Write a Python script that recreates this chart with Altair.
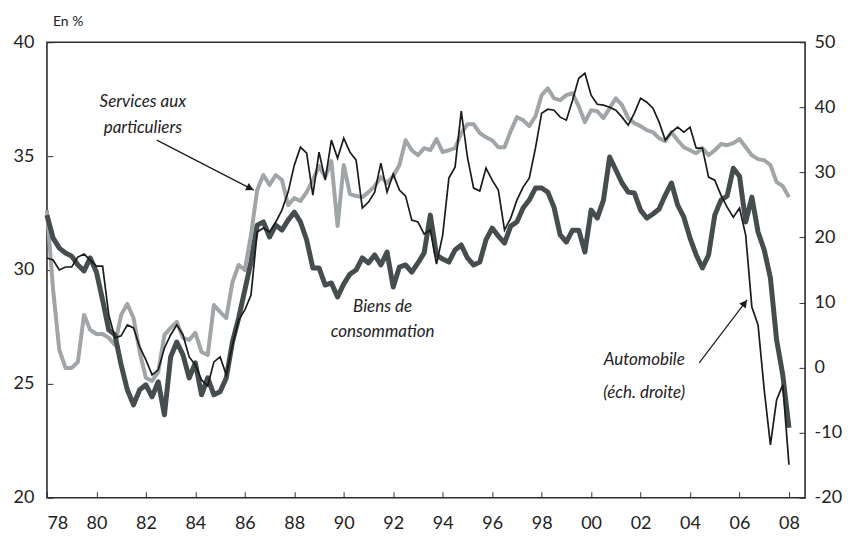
import altair as alt
import pandas as pd
import math

# Quarterly series, 1978Q1 .. 2008Q1
services = [32.63, 29.12, 26.49, 25.70, 25.70, 25.96, 28.03, 27.37, 27.19, 27.19,
            27.02, 26.71, 28.03, 28.51, 27.89, 26.40, 25.26, 25.13, 25.53, 27.15,
            27.46, 27.72, 27.02, 26.93, 27.24, 26.40, 26.27, 28.46, 28.16, 27.89,
            29.47, 30.22, 30.00, 31.54, 33.51, 34.17, 33.73, 34.17, 33.95, 32.85,
            33.16, 33.03, 33.42, 33.95, 34.56, 34.08, 34.78, 31.93, 34.61, 33.33,
            33.25, 33.20, 33.42, 33.68, 34.08, 33.82, 34.12, 34.61, 35.70, 35.26,
            35.04, 35.35, 35.26, 35.75, 35.18, 35.26, 35.35, 36.01, 36.40, 36.40,
            36.01, 35.83, 35.70, 35.39, 35.39, 36.10, 36.71, 36.58, 36.32, 36.75,
            37.68, 37.98, 37.54, 37.46, 37.68, 37.76, 37.19, 36.49, 37.02, 36.97,
            36.67, 37.11, 37.54, 37.24, 36.67, 36.45, 36.32, 36.14, 36.05, 35.79,
            35.66, 36.05, 35.70, 35.39, 35.26, 35.13, 35.35, 35.04, 35.26, 35.53,
            35.48, 35.57, 35.75, 35.39, 35.04, 34.87, 34.82, 34.61, 33.86, 33.68,
            33.20]

biens = [32.41, 31.40, 30.96, 30.75, 30.61, 30.22, 29.96, 30.53, 29.91, 28.68,
         27.37, 27.15, 25.83, 24.74, 24.08, 24.74, 24.96, 24.43, 25.09, 23.64,
         26.18, 26.84, 26.27, 25.26, 25.92, 24.52, 25.26, 24.52, 24.65, 25.26,
         26.84, 27.89, 29.12, 30.35, 31.97, 32.11, 31.45, 31.97, 31.75, 32.19,
         32.54, 32.11, 31.32, 30.09, 30.09, 29.34, 29.43, 28.82, 29.39, 29.82,
         30.00, 30.53, 30.31, 30.66, 30.22, 30.79, 29.25, 30.13, 30.22, 29.91,
         30.31, 30.75, 32.41, 30.66, 30.48, 30.35, 30.88, 31.10, 30.53, 30.22,
         30.35, 31.32, 31.84, 31.49, 31.18, 31.93, 32.11, 32.72, 33.07, 33.60,
         33.60, 33.42, 32.76, 31.54, 31.23, 31.75, 31.75, 30.79, 32.63, 32.28,
         33.07, 34.96, 34.39, 33.82, 33.42, 33.38, 32.63, 32.28, 32.46, 32.68,
         33.29, 33.82, 32.85, 32.32, 31.40, 30.66, 30.09, 30.66, 32.41, 33.07,
         33.25, 34.47, 34.12, 32.11, 33.20, 31.67, 30.88, 29.65, 26.93, 25.39,
         23.07]

auto = [16.84, 16.53, 15.00, 15.46, 15.46, 16.99, 17.45, 16.53, 15.61, 15.61,
        8.09, 4.56, 4.87, 6.56, 6.10, 3.18, 1.18, -1.12, -0.35, 3.02,
        5.02, 6.56, 5.02, 1.64, 0.41, -1.89, -2.81, 0.88, 1.64, -1.12,
        3.49, 7.32, 8.86, 11.16, 20.83, 21.45, 20.83, 22.37, 24.21, 26.97,
        31.12, 33.88, 32.96, 26.51, 33.11, 28.81, 34.96, 32.19, 35.26, 33.11,
        31.89, 24.52, 25.44, 26.97, 31.42, 26.97, 29.74, 27.28, 26.36, 22.67,
        22.37, 20.53, 21.14, 15.92, 20.37, 29.12, 30.81, 39.41, 32.35, 27.59,
        27.13, 30.66, 28.81, 27.28, 21.14, 22.98, 25.74, 27.74, 29.12, 33.73,
        39.10, 39.71, 39.56, 38.49, 38.03, 41.10, 44.47, 45.24, 41.86, 40.48,
        40.33, 40.02, 39.56, 38.49, 37.26, 39.10, 41.40, 40.79, 39.87, 37.72,
        34.96, 36.18, 36.95, 36.18, 36.95, 33.73, 33.73, 29.28, 28.81, 26.51,
        24.67, 23.13, 24.52, 20.37, 9.32, 6.56, -3.42, -11.87, -4.96, -2.66,
        -14.94]

years = [1978 + 0.25 * i for i in range(len(services))]
x_ticks = list(range(1978, 2009, 2))
left_ticks = [20, 25, 30, 35, 40]
right_ticks = [-20, -10, 0, 10, 20, 30, 40, 50]

df = pd.DataFrame({"year": years, "services": services, "biens": biens, "auto": auto})

W, H = 759, 456
FONT = "Lato"

x_enc = alt.X("year:Q",
              scale=alt.Scale(domain=[1978, 2008.65], nice=False, zero=False),
              axis=alt.Axis(values=x_ticks, labelExpr="substring(toString(datum.value), 2, 4)",
                            title=None, offset=-6, tickSize=6, labelPadding=17,
                            domain=False, grid=False))

left_axis = alt.Axis(values=left_ticks, title=None, orient="left", offset=-6, tickSize=6,
                     labelPadding=13, domain=False, grid=False)
left_scale = alt.Scale(domain=[20, 40], nice=False, zero=False)

base = alt.Chart(df)

services_line = base.mark_line(color="#A0A5A8", strokeWidth=4, strokeJoin="round").encode(
    x=x_enc, y=alt.Y("services:Q", scale=left_scale, axis=left_axis))
biens_line = base.mark_line(color="#454D4F", strokeWidth=5, strokeJoin="round").encode(
    x=x_enc, y=alt.Y("biens:Q", scale=left_scale, axis=left_axis))
auto_line = base.mark_line(color="#1A1A1A", strokeWidth=1.7).encode(
    x=x_enc,
    y=alt.Y("auto:Q", scale=alt.Scale(domain=[-20, 50], nice=False, zero=False),
            axis=alt.Axis(values=right_ticks, title=None, orient="right", offset=-6, tickSize=6,
                          labelPadding=9, domain=False, grid=False,
                          labelExpr="toString(datum.value)")))

one = pd.DataFrame({"a": [0]})


def label(text, x, y, italic=True, size=17, align="center"):
    return alt.Chart(one).mark_text(
        text=text, font=FONT, fontSize=size, fontStyle="italic" if italic else "normal",
        color="#222222", align=align, baseline="middle").encode(
        x=alt.value(x), y=alt.value(y))


def arrow(x1, y1, x2, y2, angle):
    line = alt.Chart(one).mark_rule(color="#1A1A1A", strokeWidth=1.2).encode(
        x=alt.value(x1), y=alt.value(y1), x2=alt.value(x2), y2=alt.value(y2))
    dx, dy = x2 - x1, y2 - y1
    n = math.hypot(dx, dy)
    hx, hy = x2 - 4 * dx / n, y2 - 4 * dy / n
    head = alt.Chart(one).mark_point(shape="triangle-right", filled=True, size=70,
                                     color="#1A1A1A", opacity=1, angle=angle).encode(
        x=alt.value(hx), y=alt.value(hy))
    return line + head


annotations = [
    label("Services aux", 96, 60),
    label("particuliers", 96, 86),
    label("Biens de", 336, 265),
    label("consommation", 336, 290),
    label("Automobile", 598, 318),
    label("(éch. droite)", 598, 351),
    label("En %", 6, -20, italic=False, size=14, align="left"),
    arrow(110, 98, 207, 148, 27),
    arrow(653, 321, 701, 258, 307),
]

left = alt.layer(services_line, biens_line, *annotations)
chart = alt.layer(left, auto_line).resolve_scale(y="independent").properties(
    width=W, height=H,
    autosize=alt.AutoSizeParams(type="none"),
    padding={"left": 39, "top": 34, "right": 40, "bottom": 38},
).configure_axis(
    labelFont=FONT, labelFontSize=18, labelColor="#222222",
    tickColor="#333333", tickWidth=1,
).configure_view(stroke="#2B2B2B", strokeWidth=1.6)

chart.save("out.html", embed_options={"renderer": "svg", "actions": False})
